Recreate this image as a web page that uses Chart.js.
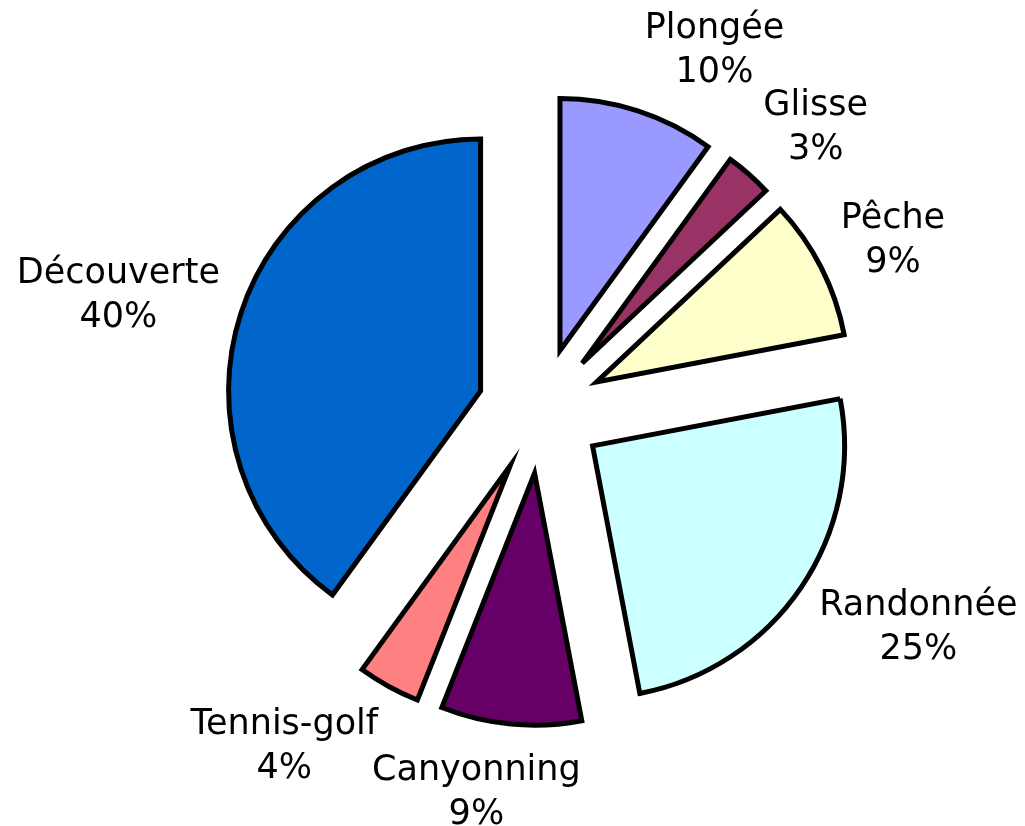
<!DOCTYPE html>
<html>
<head>
<meta charset="utf-8">
<script src="https://cdn.jsdelivr.net/npm/chart.js@4/dist/chart.umd.min.js"></script>
<style>
  html, body { margin: 0; padding: 0; background: #fff; }
  #wrap { width: 1025px; height: 826px; position: relative; }
</style>
</head>
<body>
<div id="wrap"><canvas id="activities"></canvas></div>
<script>
const labels = ["Plongée", "Glisse", "Pêche", "Randonnée", "Canyonning", "Tennis-golf", "Découverte"];
const shares = [10, 3, 9, 25, 9, 4, 40];
const colors = ["#9999FF", "#993366", "#FFFFCC", "#CCFFFF", "#660066", "#FF8080", "#0066CC"];

const EXPLODE = 63;   // distance each slice is pulled out
const LABEL_GAP = 22;
const FONT = "35px 'DejaVu Sans', Verdana, sans-serif";
const LINE_H = 44;

// draw each slice moved out along its middle angle
const explodePlugin = {
  id: "explode",
  beforeDatasetDraw(chart, args) {
    const ctx = chart.ctx;
    args.meta.data.forEach((arc) => {
      const mid = (arc.startAngle + arc.endAngle) / 2;
      ctx.save();
      ctx.translate(Math.cos(mid) * EXPLODE, Math.sin(mid) * EXPLODE);
      arc.draw(ctx);
      ctx.restore();
    });
    return false;
  },
};

// "name / xx%" labels outside each slice
const labelPlugin = {
  id: "sliceLabels",
  afterDatasetsDraw(chart) {
    const ctx = chart.ctx;
    const meta = chart.getDatasetMeta(0);
    ctx.save();
    ctx.font = FONT;
    ctx.fillStyle = "#000";
    ctx.textAlign = "center";
    ctx.textBaseline = "middle";
    meta.data.forEach((arc, i) => {
      const mid = (arc.startAngle + arc.endAngle) / 2;
      const dx = Math.cos(mid), dy = Math.sin(mid);
      const r = EXPLODE + arc.outerRadius + LABEL_GAP;
      const px = arc.x + dx * r;
      const py = arc.y + dy * r;
      const lines = [labels[i], shares[i] + "%"];
      const w = Math.max(...lines.map((t) => ctx.measureText(t).width));
      const h = LINE_H * lines.length;
      const fx = Math.max(-1, Math.min(1, dx * 3.3));
      const cx = px + (w / 2) * fx;
      const cy = py + (h / 2) * dy + 3;
      ctx.fillText(lines[0], cx, cy - LINE_H / 2);
      ctx.fillText(lines[1], cx, cy + LINE_H / 2);
    });
    ctx.restore();
  },
};

new Chart(document.getElementById("activities"), {
  type: "pie",
  data: {
    labels: labels,
    datasets: [
      {
        data: shares,
        backgroundColor: colors,
        borderColor: "#000",
        borderWidth: 5,
        borderJoinStyle: "miter",
      },
    ],
  },
  options: {
    responsive: true,
    maintainAspectRatio: false,
    animation: false,
    layout: {
      padding: { left: 286, right: 230, top: 156, bottom: 161 },
    },
    plugins: {
      legend: { display: false },
      tooltip: { enabled: false },
    },
  },
  plugins: [explodePlugin, labelPlugin],
});
</script>
</body>
</html>
